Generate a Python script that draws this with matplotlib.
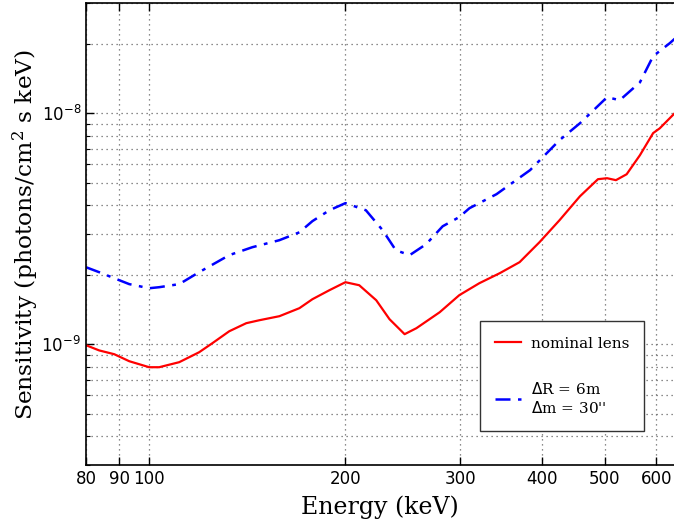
import matplotlib
matplotlib.use('Agg')
import matplotlib.pyplot as plt
from matplotlib.ticker import FixedLocator, FixedFormatter, LogLocator, NullFormatter, NullLocator

# energies (keV) and sensitivities (photons / cm^2 s keV)
energy_nominal = [80, 83.8, 88.4, 93.2, 100, 103.6, 111.2, 119.3, 125, 132.7, 140.9, 147.6,
                  158.4, 170, 178, 189, 200, 210, 223, 233.7, 246.5, 257, 279, 299, 321,
                  345, 370, 397, 426, 458, 488, 504, 520, 540, 566, 593, 607, 640]
sens_nominal = [0.99e-9, 0.94e-9, 0.905e-9, 0.844e-9, 0.795e-9, 0.795e-9, 0.836e-9, 0.923e-9,
                1.01e-9, 1.138e-9, 1.233e-9, 1.27e-9, 1.322e-9, 1.432e-9, 1.566e-9, 1.713e-9,
                1.855e-9, 1.80e-9, 1.55e-9, 1.283e-9, 1.105e-9, 1.173e-9, 1.375e-9, 1.63e-9,
                1.837e-9, 2.03e-9, 2.265e-9, 2.765e-9, 3.44e-9, 4.37e-9, 5.18e-9, 5.23e-9,
                5.13e-9, 5.44e-9, 6.58e-9, 8.2e-9, 8.6e-9, 10.0e-9]

energy_shift = [80, 83.8, 88.4, 93.2, 100, 103.6, 111.2, 119.3, 132.7, 144, 158.4, 170, 178,
                189, 200, 215, 228, 239, 251, 266, 282, 299, 310, 341, 384, 426, 458, 504,
                527, 566, 593, 629, 640]
sens_shift = [2.154e-9, 2.05e-9, 1.93e-9, 1.82e-9, 1.747e-9, 1.765e-9, 1.82e-9, 2.05e-9,
              2.43e-9, 2.63e-9, 2.82e-9, 3.05e-9, 3.41e-9, 3.80e-9, 4.08e-9, 3.80e-9, 3.12e-9,
              2.55e-9, 2.43e-9, 2.71e-9, 3.24e-9, 3.55e-9, 3.88e-9, 4.46e-9, 5.67e-9, 7.64e-9,
              9.05e-9, 11.73e-9, 11.38e-9, 13.6e-9, 17.65e-9, 20.1e-9, 21.0e-9]

xticks = [80, 90, 100, 200, 300, 400, 500, 600]
xticklabels = ['80', '90', '100', '200', '300', '400', '500', '600']

fig = plt.figure(figsize=(6.74, 5.21), dpi=100)
# right spine sits just past the picture edge, as in the original crop
ax = fig.add_axes([0.1276, 0.1075, 0.8902, 0.8868])

ax.plot(energy_nominal, sens_nominal, color='#ff0000', linewidth=1.6, label='nominal lens')
ax.plot(energy_shift, sens_shift, color='#0000ff', linewidth=1.8, linestyle='-.',
        dashes=(6, 3, 1.5, 3), label='$\\Delta$R = 6m\n$\\Delta$m = 30\'\'')

ax.set_xscale('log')
ax.set_yscale('log')
ax.set_xlim(80, 666)
ax.set_ylim(3e-10, 3e-8)

ax.xaxis.set_major_locator(FixedLocator(xticks))
ax.xaxis.set_major_formatter(FixedFormatter(xticklabels))
ax.xaxis.set_minor_locator(NullLocator())
ax.yaxis.set_major_locator(LogLocator(base=10))
ax.yaxis.set_minor_locator(LogLocator(base=10, subs=range(2, 10)))
ax.yaxis.set_minor_formatter(NullFormatter())

ax.tick_params(which='both', direction='in', top=True, right=True, labelsize=12)
ax.tick_params(which='major', length=6, width=1)
ax.tick_params(which='minor', length=3, width=0.8)

grid_style = dict(color='0.4', linestyle=(0, (1, 3)), linewidth=0.9)
ax.grid(True, which='major', **grid_style)
ax.grid(True, which='minor', axis='y', **grid_style)
for s in ax.spines.values():
    s.set_linewidth(1.2)

ax.set_xlabel('Energy (keV)', family='DejaVu Serif', fontsize=17, labelpad=4)
ax.xaxis.set_label_coords((380 - 86) / 600.0, -0.065)
ax.set_ylabel('Sensitivity (photons/cm$^2$ s keV)', family='DejaVu Serif', fontsize=16.8,
              math_fontfamily='dejavuserif', labelpad=0)

leg = ax.legend(loc='lower left', bbox_to_anchor=(0.657, 0.0736), fancybox=False,
                framealpha=1, edgecolor='0.2', borderpad=1.0, labelspacing=2.0,
                handlelength=1.65, handletextpad=0.65, borderaxespad=0,
                prop={'family': 'DejaVu Serif', 'size': 11})
leg.get_frame().set_linewidth(1.0)

fig.savefig('out.png', dpi=100)
